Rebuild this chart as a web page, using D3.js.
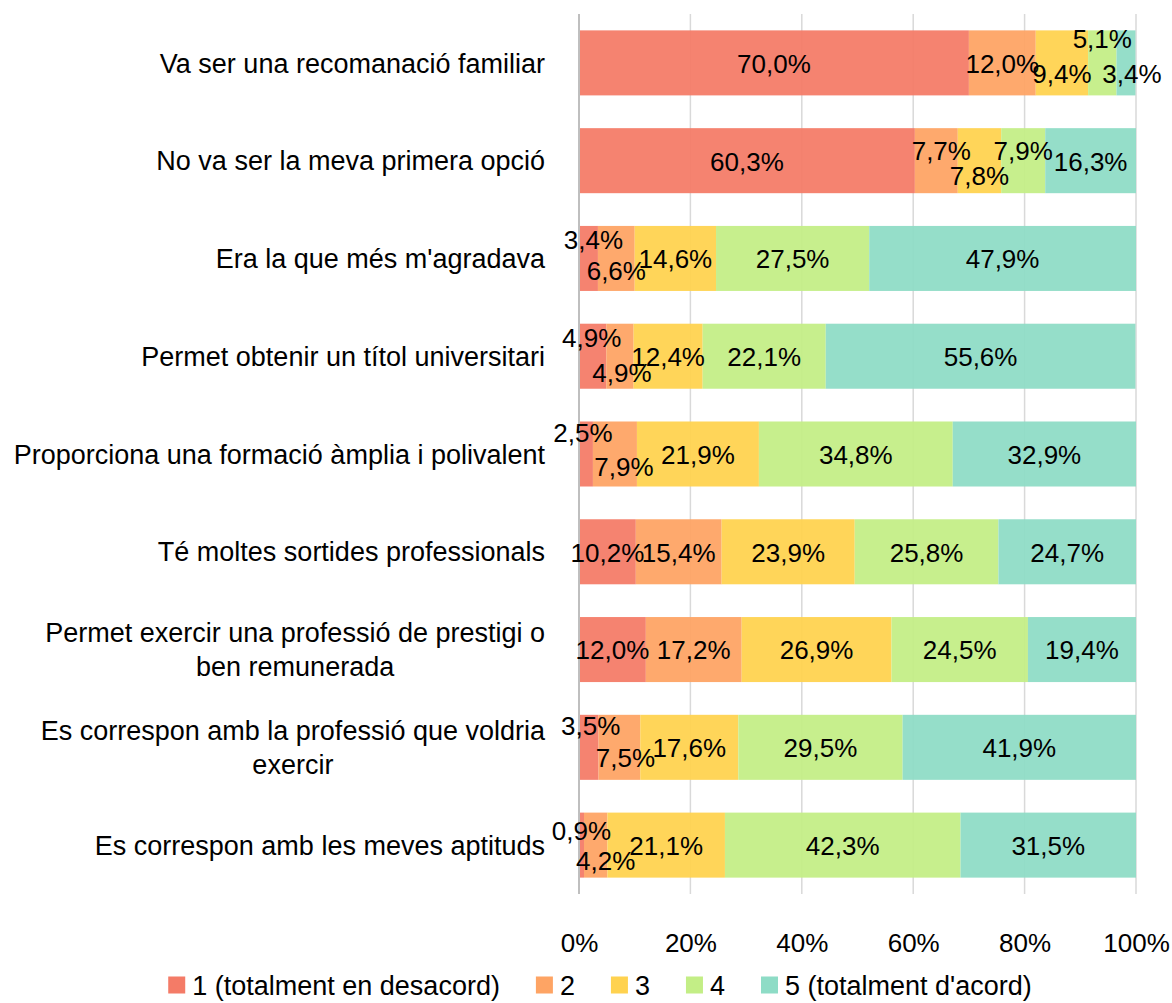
<!DOCTYPE html>
<html>
<head>
<meta charset="utf-8">
<script src="https://cdn.jsdelivr.net/npm/d3@7"></script>
<style>
  body { margin: 0; background: #fff; }
  svg { font-family: "Liberation Sans", Arial, sans-serif; }
</style>
</head>
<body>
<svg id="chart" width="1172" height="1003"></svg>
<script>
// statements, top to bottom
const categories = [
    "Va ser una recomanació familiar",
    "No va ser la meva primera opció",
    "Era la que més m'agradava",
    "Permet obtenir un títol universitari",
    "Proporciona una formació àmplia i polivalent",
    "Té moltes sortides professionals",
    "Permet exercir una professió de prestigi o ben remunerada",
    "Es correspon amb la professió que voldria exercir",
    "Es correspon amb les meves aptituds"
];

const seriesNames = ["1 (totalment en desacord)", "2", "3", "4", "5 (totalment d'acord)"];
const seriesColors = ["#f47b67", "#fea464", "#ffd24f", "#c3ee86", "#8edcc6"];

// percentages per level
const level1 = [70.0, 60.3, 3.4, 4.9, 2.5, 10.2, 12.0, 3.5, 0.9];
const level2 = [12.0, 7.7, 6.6, 4.9, 7.9, 15.4, 17.2, 7.5, 4.2];
const level3 = [9.4, 7.8, 14.6, 12.4, 21.9, 23.9, 26.9, 17.6, 21.1];
const level4 = [5.1, 7.9, 27.5, 22.1, 34.8, 25.8, 24.5, 29.5, 42.3];
const level5 = [3.4, 16.3, 47.9, 55.6, 32.9, 24.7, 19.4, 41.9, 31.5];

const tickValues = [0, 20, 40, 60, 80, 100];

// manual nudges of small data labels "row-series" -> [dx, dy]
const labelNudge = {
    "0-2": [0, 10], "0-3": [0, -25], "0-4": [6, 10],
    "1-1": [5, -11], "1-2": [0, 14], "1-3": [0, -11],
    "2-0": [5, -19], "2-1": [0, 12],
    "3-0": [-1, -19], "3-1": [2, 16],
    "4-0": [-3, -22], "4-1": [9, 12],
    "7-0": [2, -22], "7-1": [6, 10],
    "8-0": [0, -15], "8-1": [10, 15]
};

const levels = [level1, level2, level3, level4, level5];
const rows = categories.map((c, i) => {
    const r = { name: c };
    levels.forEach((l, k) => r["s" + k] = l[i]);
    return r;
});
const keys = levels.map((l, k) => "s" + k);

const svg = d3.select("#chart");
const textSize = 27;
const numSize = 26;

const x = d3.scaleLinear().domain([0, 100]).range([579, 1136]);
const y = d3.scaleBand().domain(d3.range(categories.length)).range([14, 894]).paddingInner(0.335).paddingOuter(0.1675);

const stacked = d3.stack().keys(keys)(rows);

// gridlines
svg.append("g")
    .selectAll("line")
    .data(tickValues.slice(1))
    .join("line")
    .attr("x1", d => x(d)).attr("x2", d => x(d))
    .attr("y1", 14).attr("y2", 894)
    .attr("stroke", "#d9d9d9")
    .attr("stroke-width", 1.5);

// bars
const layer = svg.append("g")
    .selectAll("g")
    .data(stacked)
    .join("g")
    .attr("fill", (d, k) => seriesColors[k]);

layer.selectAll("rect")
    .data(d => d)
    .join("rect")
    .attr("x", d => x(d[0]))
    .attr("width", d => x(d[1]) - x(d[0]))
    .attr("y", (d, i) => y(i))
    .attr("height", y.bandwidth())
    .attr("fill-opacity", 0.94);

// axis line at 0
svg.append("line")
    .attr("x1", x(0)).attr("x2", x(0))
    .attr("y1", 14).attr("y2", 894)
    .attr("stroke", "#bfbfbf")
    .attr("stroke-width", 2);

// data labels
const labels = svg.append("g").attr("font-size", numSize).attr("fill", "#000").attr("text-anchor", "middle");
stacked.forEach((s, k) => {
    s.forEach((d, i) => {
        const n = labelNudge[i + "-" + k] || [0, 0];
        labels.append("text")
            .attr("x", x((d[0] + d[1]) / 2) + n[0])
            .attr("y", y(i) + y.bandwidth() / 2 + n[1])
            .attr("dy", "0.38em")
            .text(d3.format(".1f")(d[1] - d[0]).replace(".", ",") + "%");
    });
});

// category labels, wrapped like Excel does
const catG = svg.append("g").attr("font-size", textSize).attr("fill", "#000");
const maxW = 545;
categories.forEach((c, i) => {
    const words = c.split(" ");
    const probe = catG.append("text");
    let lines = [], cur = "";
    words.forEach(w => {
        const t = cur ? cur + " " + w : w;
        probe.text(t);
        if (probe.node().getComputedTextLength() > maxW && cur) {
            lines.push(cur);
            cur = w;
        } else cur = t;
    });
    lines.push(cur);
    probe.remove();

    const cy = y(i) + y.bandwidth() / 2;
    const lh = 34;
    const t = catG.append("text").attr("text-anchor", lines.length > 1 ? "middle" : "end");
    lines.forEach((l, j) => {
        t.append("tspan").attr("x", 545).attr("y", cy + (j - (lines.length - 1) / 2) * lh).attr("dy", "0.36em").text(l);
    });
    if (lines.length > 1) {
        const w = d3.max(t.selectAll("tspan").nodes(), n => n.getComputedTextLength());
        t.selectAll("tspan").attr("x", 545 - w / 2);
    }
});

// x axis tick labels
svg.append("g")
    .attr("transform", "translate(0,943)")
    .call(d3.axisBottom(x).tickValues(tickValues).tickFormat(d => d + "%").tickSize(0))
    .call(g => g.select(".domain").remove())
    .call(g => g.selectAll("text").attr("font-size", numSize).attr("font-family", null).attr("fill", "#000").attr("y", 0).attr("dy", "0.36em"));

// legend
const legend = svg.append("g").attr("font-size", textSize);
let lx = 0;
seriesNames.forEach((name, k) => {
    const g = legend.append("g").attr("transform", `translate(${lx},0)`);
    g.append("rect").attr("x", 0).attr("y", -8.5).attr("width", 17).attr("height", 17).attr("fill", seriesColors[k]);
    const t = g.append("text").attr("x", 24).attr("y", 0).attr("dy", "0.36em").text(name);
    lx += 24 + t.node().getComputedTextLength() + 36;
});
const legendW = lx - 36;
legend.attr("transform", `translate(${600 - legendW / 2},985)`);
</script>
</body>
</html>
